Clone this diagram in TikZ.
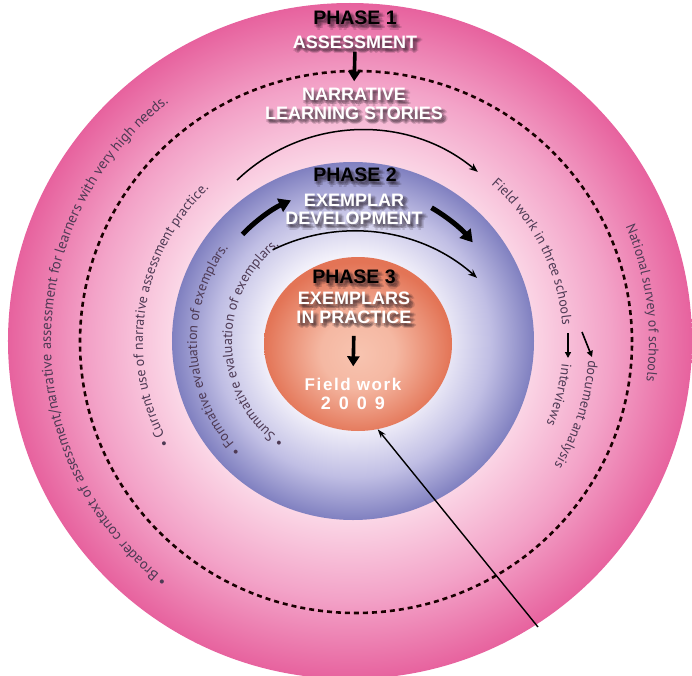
\documentclass[tikz,border=0pt]{standalone}
\usepackage{fontspec}
\setmainfont{Liberation Sans}
\newfontfamily\curvefont{PT Sans}
\usetikzlibrary{arrows.meta,decorations.text,shapes.geometric}

% palette
\definecolor{pinkout}{RGB}{231,98,158}
\definecolor{pinkmid}{RGB}{243,163,200}
\definecolor{pinkin}{RGB}{251,216,231}
\definecolor{lavout}{RGB}{128,128,192}
\definecolor{lavmid}{RGB}{192,190,228}
\definecolor{lavin}{RGB}{243,241,250}
\definecolor{orout}{RGB}{227,116,86}
\definecolor{orin}{RGB}{248,196,176}
\definecolor{ctext}{RGB}{78,58,84}
\definecolor{shadowc}{RGB}{30,20,30}

% radial shadings: the path edge sits at 25bp
\pgfdeclareradialshading{pinkdisc}{\pgfpoint{0bp}{0bp}}{color(0bp)=(pinkin); color(13bp)=(pinkin); color(19bp)=(pinkmid); color(25bp)=(pinkout); color(50bp)=(pinkout)}
\pgfdeclareradialshading{lavdisc}{\pgfpoint{0bp}{0bp}}{color(0bp)=(lavin); color(12bp)=(lavin); color(19bp)=(lavmid); color(25bp)=(lavout); color(50bp)=(lavout)}
\pgfdeclareradialshading{ordisc}{\pgfpoint{0bp}{-3bp}}{color(0bp)=(orin); color(10bp)=(orin!85!orout); color(25bp)=(orout); color(50bp)=(orout)}

% fonts
\newcommand\ctext{\curvefont\fontsize{14}{16}\selectfont\color{ctext}}
\newcommand\ctextbig{\curvefont\fontsize{14.6}{16}\selectfont\color{ctext}}
\newcommand\hdfont{\fontsize{18}{18.5}\selectfont\bfseries}
\newcommand\phfont{\fontsize{19.5}{20}\selectfont\bfseries}
\newcommand\fwfont{\fontsize{17}{18.5}\selectfont\bfseries}

% letter spacing
\newlength\lspgap
\def\lspA#1{\ifx#1\relax\else#1\kern\lspgap\expandafter\lspA\fi}
\newcommand\spaced[2]{\setlength\lspgap{#1}\lspA#2\relax\kern-\lspgap}

% text with a soft drop shadow: name, position, style, text
\newcommand\shadowed[4]{%
  \foreach \sx/\sy [count=\k] in {1.5/-2,4/-2,1.5/-4,4/-4,2.8/-3,2.8/-5.5,5.5/-3.5,0/-3}
    \node[#3, text=shadowc, text opacity=0.15, xshift=\sx pt, yshift=\sy pt] (#1-s\k) at (#2) {#4};
  \node[#3] (#1) at (#2) {#4};
}

\begin{document}
\begin{tikzpicture}[x=1pt,y=1pt,
  every node/.style={inner sep=0pt},
  disc/.style={ellipse, shade, draw=none, inner sep=0pt},
  dashring/.style={ellipse, draw=black!90!red, line width=2.6pt, dash pattern=on 5pt off 4pt},
  headw/.style={font=\hdfont, text=white, align=center},
  phase/.style={font=\phfont, text=black},
  fwtext/.style={font=\fwfont, text=white, align=center},
  bigarrow/.style={line width=3.6pt, -{Triangle[width=12pt,length=10pt]}},
  fatarc/.style={line width=5pt, -{Triangle[width=14pt,length=12pt]}},
  thinarc/.style={line width=1.5pt, -{Stealth[length=9pt,width=7pt]}},
  smallarrow/.style={line width=1.6pt, -{Triangle[width=6pt,length=6pt]}},
  curved/.style={decorate, decoration={text along path, text={|\ctext|#1}}},
  curvedbig/.style={decorate, decoration={text along path, text={|\ctextbig|#1}}}
]
\useasboundingbox (-354,-333) rectangle (338,342);

% nested discs
\node[disc, shading=pinkdisc, minimum width=684, minimum height=676] (outer) at (-4,1) {};
\node[dashring, minimum width=552, minimum height=542] (ring) at (2,0) {};
\node[disc, shading=lavdisc, minimum width=362, minimum height=358] (mid) at (-1,1) {};
\node[disc, shading=ordisc, minimum width=188, minimum height=174] (orange) at (4,-2) {};

% texts along the rings
\path[curvedbig={• Broader context of assessment/narrative assessment for learners with very high needs.}]
  (232:303) arc[start angle=232, end angle=80, radius=303];
\path[curved={• Current use of narrative assessment practice.}]
  (209:211) arc[start angle=209, end angle=90, radius=211];
\path[curved={• Formative evaluation of exemplars.}]
  (224:157) arc[start angle=224, end angle=100, radius=157];
\path[curved={• Summative evaluation of exemplars.}]
  (235:122) arc[start angle=235, end angle=100, radius=122];
\path[curved={Field work in three schools}]
  (49:209) arc[start angle=49, end angle=-20, radius=209];
\path[curved={National survey of schools}]
  (23:295) arc[start angle=23, end angle=-30, radius=295];
\path[curved={interviews}]
  (-6:209) arc[start angle=-6, end angle=-40, radius=209];
\path[curved={document analysis}]
  (-4.5:235) arc[start angle=-4.5, end angle=-50, radius=235];

% headings
\shadowed{p1}{1,324}{phase}{PHASE 1}
\shadowed{assess}{1,300}{headw}{ASSESSMENT}
\shadowed{narr}{0,238}{headw}{NARRATIVE\\LEARNING STORIES}
\shadowed{p2}{1,167}{phase}{PHASE 2}
\shadowed{ex2}{0,132.5}{headw}{EXEMPLAR\\DEVELOPMENT}
\shadowed{p3}{0,65}{phase}{PHASE 3}
\shadowed{ex3}{0,34}{headw}{EXEMPLARS\\IN PRACTICE}
\node[fwtext] (fw) at (-1,-52) {\spaced{1.6pt}{Field}\hspace{6pt}\spaced{1.6pt}{work}\\\fontsize{18}{18.5}\selectfont\spaced{8pt}{2009}};

% straight arrows between headings
\draw[bigarrow, shorten <=3pt, shorten >=7pt] (assess.south) -- (narr.north);
\draw[bigarrow, shorten <=12pt, shorten >=12pt] (ex3.south) -- (fw.north);

% curved arrows
\coordinate (ua) at ([shift={(8,31)}]133.7:181);
\draw[thinarc] (ua) arc[start angle=133.7, end angle=50.2, radius=181];
\coordinate (la) at ([shift={(0,-74)}]116:185);
\draw[thinarc] (la) arc[start angle=116, end angle=48.3, radius=185];
\coordinate (ta) at (136:155);
\draw[fatarc] (ta) arc[start angle=136, end angle=114, radius=155];
\coordinate (tb) at (60:155);
\draw[fatarc] (tb) arc[start angle=60, end angle=40, radius=155];

% arrows after the field-work text
\coordinate (fa1) at (214,9);
\coordinate (fa1e) at (214,-16);
\draw[smallarrow] (fa1) -- (fa1e);
\coordinate (fa2) at (228,10);
\coordinate (fa2e) at (238,-15);
\draw[smallarrow] (fa2) -- (fa2e);

% long pointer into the centre disc
\coordinate (tail) at (184,-285);
\draw[line width=1.4pt, -{Stealth[length=9pt,width=6pt]}] (tail) -- (orange.-77);
\end{tikzpicture}
\end{document}
